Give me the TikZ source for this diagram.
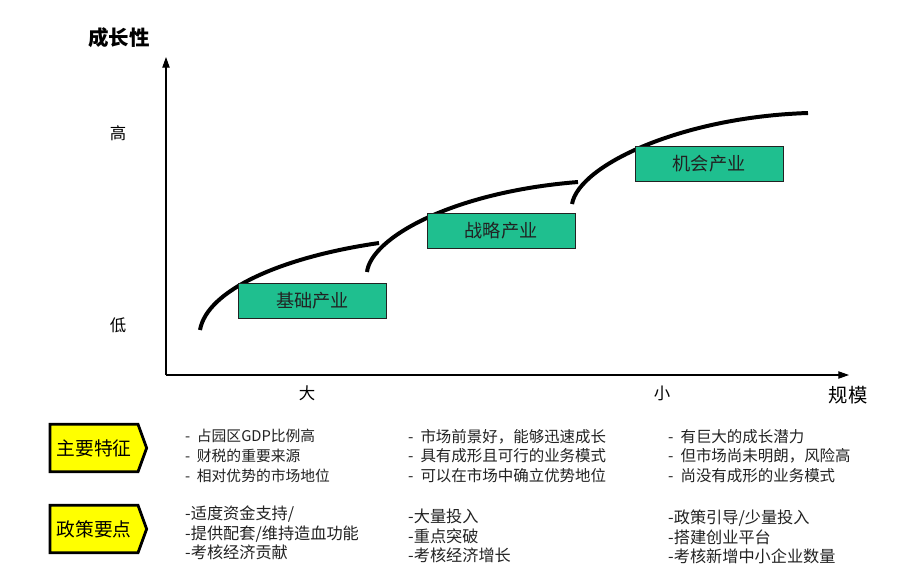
\documentclass[tikz,border=0pt]{standalone}
\usepackage{fontspec}
\newfontfamily\cjk{Noto Sans CJK SC}
\usetikzlibrary{arrows.meta,shapes.symbols}
\definecolor{gcInk}{HTML}{000000}
\definecolor{gcGreen}{HTML}{1FBF8F}
\definecolor{gcYellow}{HTML}{FFFF00}
\definecolor{gcText}{HTML}{222222}
\tikzset{
  gc axis/.style={
    draw=gcInk,
    line width=.9pt,
    -{Triangle[length=3.2mm,width=2.2mm]}
  },
  gc curve/.style={draw=gcInk, line width=3.4pt},
  gc stage/.style={
    draw=gcText,
    fill=gcGreen,
    line width=.6pt,
    minimum width=4.44cm,
    minimum height=1.05cm,
    font=\cjk\fontsize{15.5}{18}\selectfont,
    text=gcText
  },
  gc tag/.style={
    shape=signal,
    signal to=east,
    signal pointer angle=140,
    draw=gcInk,
    fill=gcYellow,
    line width=2.4pt,
    minimum width=2.9cm,
    minimum height=1.42cm,
    inner sep=0pt,
    font=\cjk\fontsize{16}{19}\selectfont,
    text=gcInk
  },
  gc level/.style={font=\cjk\fontsize{14}{16}\selectfont, text=gcInk},
  gc title/.style={font=\cjk\bfseries\fontsize{17.5}{20}\selectfont, text=gcInk},
  gc list/.style={
    anchor=west,
    align=left,
    inner sep=0pt,
    font=\cjk\fontsize{13.2}{16.9}\selectfont,
    text=gcText
  },
  gc list narrow/.style={gc list, font=\cjk\fontsize{12.6}{16.9}\selectfont},
  gc list wide/.style={gc list, font=\cjk\fontsize{13.8}{16.9}\selectfont}
}
\begin{document}
\begin{tikzpicture}[x=.03cm,y=-.03cm]
  \path[fill=white, use as bounding box] (0,0) rectangle (900,580);

  % axes
  \coordinate (origin) at (166,375);
  \coordinate (ytip) at (166,57);
  \coordinate (xtip) at (849,375);
  \draw[gc axis] (origin) -- (ytip);
  \draw[gc axis] (origin) -- (xtip);

  \node[gc title] (ylabel) at (119,38) {成长性};
  \node[gc level] (high) at (118,133) {高};
  \node[gc level] (low) at (118,325) {低};
  \node[gc level] (big) at (307,393) {大};
  \node[gc level] (small) at (662,393) {小};
  \node[gc title, font=\cjk\fontsize{16.5}{19}\selectfont] (xlabel) at (848,395) {规模};

  % growth curves
  \coordinate (c1s) at (200,330);
  \coordinate (c1e) at (379,243);
  \coordinate (c2s) at (367,272);
  \coordinate (c2e) at (578,182);
  \coordinate (c3s) at (572,204);
  \coordinate (c3e) at (808,113);
  \draw[gc curve] (c1s) .. controls (207,290) and (282,257) .. (c1e);
  \draw[gc curve] (c2s) .. controls (371,238) and (452,192) .. (c2e);
  \draw[gc curve] (c3s) .. controls (579,165) and (682,117) .. (c3e);

  \node[gc stage] (basic) at (312.5,300.5) {基础产业};
  \node[gc stage] (strategic) at (501,230.5) {战略产业};
  \node[gc stage] (chance) at (709,163.5) {机会产业};

  % table below
  \node[gc tag] (featTag) at (94,448) {主要特征};
  \node[gc tag] (polTag) at (94,529) {政策要点};

  \node[gc list narrow] (feat1) at (185,456) {-\ \ 占园区GDP比例高\\-\ \ 财税的重要来源\\-\ \ 相对优势的市场地位};
  \node[gc list] (feat2) at (408,456) {-\ \ 市场前景好，能够迅速成长\\-\ \ 具有成形且可行的业务模式\\-\ \ 可以在市场中确立优势地位};
  \node[gc list] (feat3) at (668,456) {-\ \ 有巨大的成长潜力\\-\ \ 但市场尚未明朗，风险高\\-\ \ 尚没有成形的业务模式};

  \node[gc list wide] (pol1) at (185,533) {-适度资金支持/\\-提供配套/维持造血功能\\-考核经济贡献};
  \node[gc list wide] (pol2) at (408,536) {-大量投入\\-重点突破\\-考核经济增长};
  \node[gc list wide] (pol3) at (668,537) {-政策引导/少量投入\\-搭建创业平台\\-考核新增中小企业数量};
\end{tikzpicture}
\end{document}
